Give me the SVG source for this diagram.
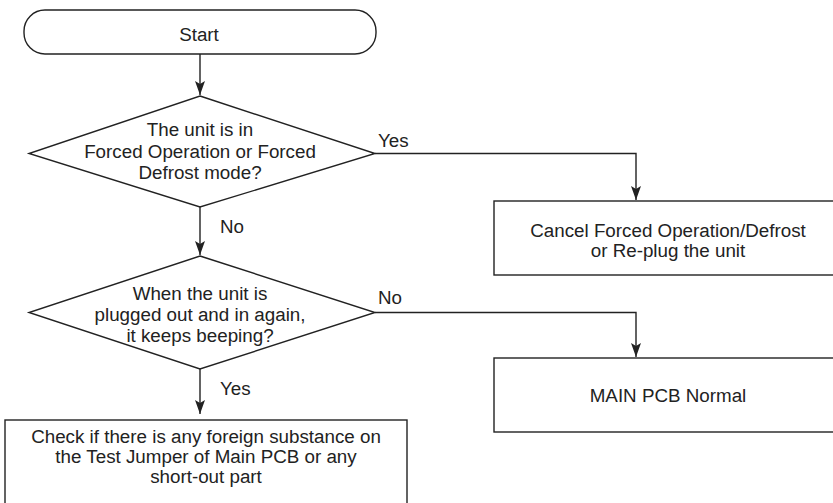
<svg xmlns="http://www.w3.org/2000/svg" width="833" height="503" viewBox="0 0 833 503">
  <style>
    .shape { fill: #ffffff; stroke: #222222; stroke-width: 1.4; }
    .edge { fill: none; stroke: #222222; stroke-width: 1.4; }
    text { font-family: "Liberation Sans", Arial, sans-serif; font-size: 18.8px; fill: #222222; }
    .c { text-anchor: middle; }
  </style>
  <defs>
    <marker id="arrow" markerWidth="14" markerHeight="10" refX="14" refY="5" orient="auto" markerUnits="userSpaceOnUse">
      <path d="M0,0 L14,5 L0,10 L3,5 Z" fill="#222222"/>
    </marker>
  </defs>

  <rect width="833" height="503" fill="#ffffff"/>

  <!-- connectors -->
  <g id="connectors">
    <path class="edge" d="M200,54 V95" marker-end="url(#arrow)"/>
    <path class="edge" d="M375,153.5 H636 V200" marker-end="url(#arrow)"/>
    <path class="edge" d="M200,207 V255" marker-end="url(#arrow)"/>
    <path class="edge" d="M375,312.5 H636 V357" marker-end="url(#arrow)"/>
    <path class="edge" d="M200,369 V414" marker-end="url(#arrow)"/>
    <text x="378" y="147">Yes</text>
    <text x="220" y="233">No</text>
    <text x="378" y="304">No</text>
    <text x="220" y="395">Yes</text>
  </g>

  <!-- start terminal -->
  <g id="start">
    <rect class="shape" x="24" y="10" width="352" height="44" rx="21" ry="21"/>
    <text class="c" x="199" y="41">Start</text>
  </g>

  <!-- decision: forced mode -->
  <g id="decision-forced">
    <polygon class="shape" points="200,96 375,153.5 200,207 29,153.5"/>
    <text class="c" x="200" y="136">The unit is in</text>
    <text class="c" x="200" y="158">Forced Operation or Forced</text>
    <text class="c" x="200" y="179">Defrost mode?</text>
  </g>

  <!-- action: cancel forced mode -->
  <g id="cancel-forced">
    <rect class="shape" x="494" y="201" width="350" height="74"/>
    <text class="c" x="668" y="237">Cancel Forced Operation/Defrost</text>
    <text class="c" x="668" y="257">or Re-plug the unit</text>
  </g>

  <!-- decision: beeping after re-plug -->
  <g id="decision-beeping">
    <polygon class="shape" points="200,256 375,312.5 200,369 29,312.5"/>
    <text class="c" x="200" y="300">When the unit is</text>
    <text class="c" x="200" y="321">plugged out and in again,</text>
    <text class="c" x="200" y="342">it keeps beeping?</text>
  </g>

  <!-- result: main PCB normal -->
  <g id="pcb-normal">
    <rect class="shape" x="494" y="358" width="350" height="74"/>
    <text class="c" x="668" y="402">MAIN PCB Normal</text>
  </g>

  <!-- action: check test jumper -->
  <g id="check-jumper">
    <rect class="shape" x="5" y="420" width="402" height="100"/>
    <text class="c" x="206" y="443">Check if there is any foreign substance on</text>
    <text class="c" x="206" y="463">the Test Jumper of Main PCB or any</text>
    <text class="c" x="206" y="483">short-out part</text>
  </g>
</svg>
